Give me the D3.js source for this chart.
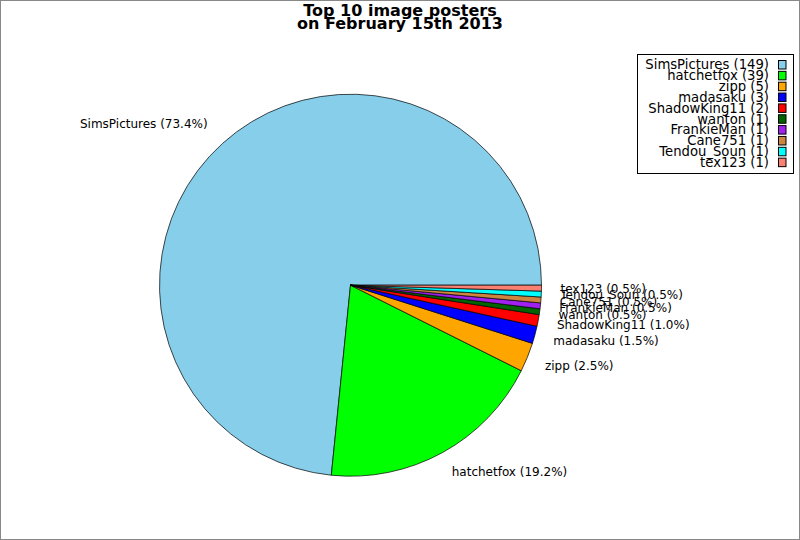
<!DOCTYPE html>
<html lang="en">
<head>
<meta charset="utf-8">
<title>Top 10 image posters</title>
<script src="https://cdn.jsdelivr.net/npm/d3@7"></script>
<style>
  body { margin: 0; background: #fff; }
  svg { display: block; font-family: "DejaVu Sans", sans-serif; }
</style>
</head>
<body>
<script>
// data
var names  = ["SimsPictures", "hatchetfox", "zipp", "madasaku", "ShadowKing11",
              "wanton", "FrankieMan", "Cane751", "Tendou_Soun", "tex123"];
var counts = [149, 39, 5, 3, 2, 1, 1, 1, 1, 1];
var colors = ["#87ceeb", "#00ff00", "#ffa500", "#0000ff", "#ff0000",
              "#006400", "#a020f0", "#cd853f", "#00ffff", "#fa8072"];
var titleLines = ["Top 10 image posters", "on February 15th 2013"];

var w = 800, h = 540;
var cx = 350.5, cy = 285.2, r = 191;

var total = d3.sum(counts);

var svg = d3.select("body").append("svg")
    .attr("width", w)
    .attr("height", h);

// outer frame
svg.append("rect")
    .attr("x", 0.5).attr("y", 0.5)
    .attr("width", w - 1).attr("height", h - 1)
    .attr("fill", "#fff")
    .attr("stroke", "#888")
    .attr("stroke-width", 1);

// title
svg.append("g").selectAll("text")
    .data(titleLines)
    .enter().append("text")
    .attr("x", 400)
    .attr("y", function(d, i) { return 15.5 + i * 13.5; })
    .attr("text-anchor", "middle")
    .attr("font-size", 16)
    .attr("font-weight", "bold")
    .text(function(d) { return d; });

// pie goes counter-clockwise starting at 3 o'clock
var pie = d3.pie()
    .sort(null)
    .startAngle(Math.PI / 2)
    .endAngle(Math.PI / 2 - 2 * Math.PI);

var arcs = pie(counts);
var arc = d3.arc().innerRadius(0).outerRadius(r);

var g = svg.append("g").attr("transform", "translate(" + cx + "," + cy + ")");

g.selectAll("path")
    .data(arcs)
    .enter().append("path")
    .attr("d", arc)
    .attr("fill", function(d, i) { return colors[i]; })
    .attr("stroke", "#000")
    .attr("stroke-width", 0.7)
    .attr("stroke-linejoin", "round");

function midAngle(d) { return (d.startAngle + d.endAngle) / 2; }
function labelR(d) { return Math.sin(midAngle(d)) >= 0 ? 210 : 213; }

// slice labels
g.selectAll("text.lbl")
    .data(arcs)
    .enter().append("text")
    .attr("class", "lbl")
    .attr("font-size", 12)
    .attr("x", function(d) { return labelR(d) * Math.sin(midAngle(d)); })
    .attr("y", function(d) {
        var a = midAngle(d);
        var s = Math.cos(a);   // up component
        var off = s > 0 ? -5 * s : 2.5 * (-s);
        return -labelR(d) * Math.cos(a) + off;
    })
    .attr("dy", "0.36em")
    .attr("text-anchor", function(d) {
        return Math.sin(midAngle(d)) >= 0 ? "start" : "end";
    })
    .text(function(d, i) {
        return names[i] + " (" + (counts[i] / total * 100).toFixed(1) + "%)";
    });

// legend
var lx = 637.5, ly = 54.5, lw = 156, lh = 119, rowH = 10.85;
var legend = svg.append("g");

legend.append("rect")
    .attr("x", lx).attr("y", ly)
    .attr("width", lw).attr("height", lh)
    .attr("fill", "#fff")
    .attr("stroke", "#000")
    .attr("stroke-width", 1);

var rows = legend.selectAll("g.row")
    .data(names)
    .enter().append("g")
    .attr("class", "row")
    .attr("transform", function(d, i) { return "translate(0," + (64.5 + i * rowH) + ")"; });

rows.append("text")
    .attr("x", 769)
    .attr("dy", "0.36em")
    .attr("text-anchor", "end")
    .attr("font-size", 13.2)
    .text(function(d, i) { return d + " (" + counts[i] + ")"; });

rows.append("rect")
    .attr("x", 778.5).attr("y", -4)
    .attr("width", 7.5).attr("height", 8.5)
    .attr("fill", function(d, i) { return colors[i]; })
    .attr("stroke", "#000")
    .attr("stroke-width", 1);
</script>
</body>
</html>
